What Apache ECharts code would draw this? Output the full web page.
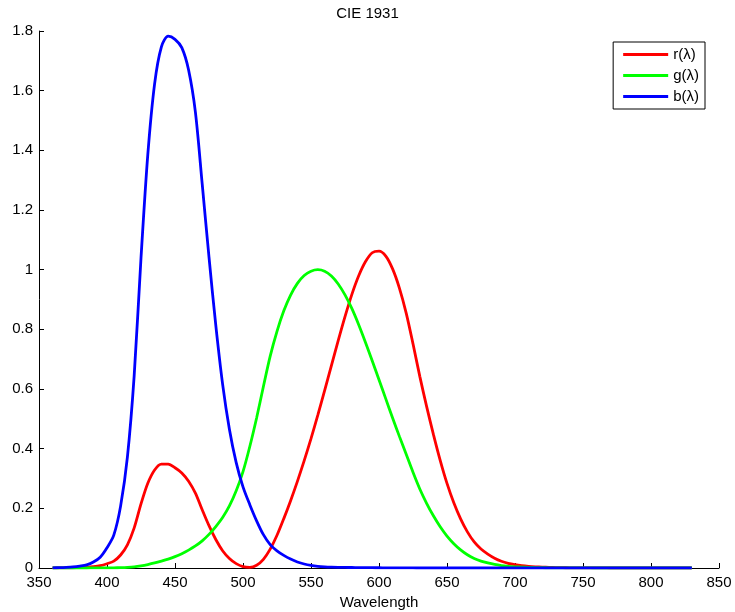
<!DOCTYPE html>
<html><head><meta charset="utf-8">
<script src="https://cdn.jsdelivr.net/npm/echarts@6/dist/echarts.min.js"></script>
<style>html,body{margin:0;padding:0;background:#fff}#c{width:735px;height:612px}</style>
</head><body><div id="c"></div>
<script>
const wavelengths = [360,365,370,375,380,385,390,395,400,405,410,415,420,425,430,435,440,445,450,455,460,465,470,475,480,485,490,495,500,505,510,515,520,525,530,535,540,545,550,555,560,565,570,575,580,585,590,595,600,605,610,615,620,625,630,635,640,645,650,655,660,665,670,675,680,685,690,695,700,705,710,715,720,725,730,735,740,745,750,755,760,765,770,775,780,785,790,795,800,805,810,815,820,825,830];
const rValues = [0.00013,0.000232,0.000415,0.000742,0.001368,0.002236,0.004243,0.00765,0.01431,0.02319,0.04351,0.07763,0.13438,0.21477,0.2839,0.3285,0.34828,0.34806,0.3362,0.3187,0.2908,0.2511,0.19536,0.1421,0.09564,0.05795,0.03201,0.0147,0.0049,0.0024,0.0093,0.0291,0.06327,0.1096,0.1655,0.22575,0.2904,0.3597,0.43345,0.51205,0.5945,0.6784,0.7621,0.8425,0.9163,0.9786,1.0263,1.0567,1.0622,1.0456,1.0026,0.9384,0.85445,0.7514,0.6424,0.5419,0.4479,0.3608,0.2835,0.2187,0.1649,0.1212,0.0874,0.0636,0.04677,0.0329,0.0227,0.01584,0.011359,0.008111,0.00579,0.004109,0.002899,0.002049,0.00144,0.001,0.00069,0.000476,0.000332,0.000235,0.000166,0.000117,0.000083,0.000059,0.000042,0.000029,0.000021,0.000015,0.00001,0.000007,0.000005,0.000004,0.000003,0.000002,0.000001];
const gValues = [0.000004,0.000007,0.000012,0.000022,0.000039,0.000064,0.00012,0.000217,0.000396,0.00064,0.00121,0.00218,0.004,0.0073,0.0116,0.01684,0.023,0.0298,0.038,0.048,0.06,0.0739,0.09098,0.1126,0.13902,0.1693,0.20802,0.2586,0.323,0.4073,0.503,0.6082,0.71,0.7932,0.862,0.91485,0.954,0.9803,0.99495,1.0,0.995,0.9786,0.952,0.9154,0.87,0.8163,0.757,0.6949,0.631,0.5668,0.503,0.4412,0.381,0.321,0.265,0.217,0.175,0.1382,0.107,0.0816,0.061,0.04458,0.032,0.0232,0.017,0.01192,0.00821,0.005723,0.004102,0.002929,0.002091,0.001484,0.001047,0.00074,0.00052,0.000361,0.000249,0.000172,0.00012,0.000085,0.00006,0.000042,0.00003,0.000021,0.000015,0.00001,0.000007,0.000005,0.000004,0.000003,0.000002,0.000001,0.000001,0.000001,0];
const bValues = [0.000606,0.001086,0.001946,0.003486,0.00645,0.01055,0.02005,0.03621,0.06785,0.1102,0.2074,0.3713,0.6456,1.03905,1.3856,1.62296,1.74706,1.7826,1.77211,1.7441,1.6692,1.5281,1.28764,1.0419,0.81295,0.6162,0.46518,0.3533,0.272,0.2123,0.1582,0.1117,0.07825,0.05725,0.04216,0.02984,0.0203,0.0134,0.00875,0.00575,0.0039,0.00275,0.0021,0.0018,0.00165,0.0014,0.0011,0.001,0.0008,0.0006,0.00034,0.00024,0.00019,0.0001,0.00005,0.00003,0.00002,0.00001,0,0,0,0,0,0,0,0,0,0,0,0,0,0,0,0,0,0,0,0,0,0,0,0,0,0,0,0,0,0,0,0,0,0,0,0,0];
const seriesNames = ['r(λ)','g(λ)','b(λ)'];
const seriesColors = ['#ff0000','#00ff00','#0000ff'];
const xTicks = {min:350, max:850, interval:50};
const yTicks = {min:0, max:1.8, interval:0.2};

const font = 'Liberation Sans, Arial, Helvetica, sans-serif';
const chart = echarts.init(document.getElementById('c'), null, {renderer:'canvas'});
const allVals = [rValues, gValues, bValues];
chart.setOption({
  animation:false,
  backgroundColor:'#fff',
  title:{text:'CIE 1931', left:'center', top:6, padding:0, textStyle:{fontFamily:font, fontSize:15, fontWeight:'normal', color:'#000'}},
  legend:{
    data:seriesNames, orient:'vertical', right:30, top:42,
    backgroundColor:'#fff', borderColor:'#000', borderWidth:1, borderRadius:0,
    padding:[5,6,5,10], itemGap:6, itemWidth:45, itemHeight:3, icon:'rect',
    textStyle:{fontFamily:font, fontSize:15, color:'#000'}
  },
  grid:{left:39, right:16, top:31, bottom:44, containLabel:false, outerBoundsMode:'none'},
  xAxis:{type:'value', min:xTicks.min, max:xTicks.max, interval:xTicks.interval,
    name:'Wavelength', nameLocation:'middle', nameGap:23,
    nameTextStyle:{fontFamily:font, fontSize:15, color:'#000'},
    axisLine:{show:true, onZero:false, lineStyle:{color:'#000', width:1}},
    axisTick:{show:true, inside:true, length:5, lineStyle:{color:'#000'}},
    axisLabel:{fontFamily:font, fontSize:15, color:'#000', margin:7},
    splitLine:{show:false}},
  yAxis:{type:'value', min:yTicks.min, max:yTicks.max, interval:yTicks.interval,
    axisLine:{show:true, lineStyle:{color:'#000', width:1}},
    axisTick:{show:true, inside:true, length:5, lineStyle:{color:'#000'}},
    axisLabel:{fontFamily:font, fontSize:15, color:'#000', margin:6},
    splitLine:{show:false}},
  series: seriesNames.map((n,i)=>({
    name:n, type:'line', showSymbol:false, symbol:'none', smooth:0.3,
    color:seriesColors[i],
    lineStyle:{width:2.8, color:seriesColors[i]},
    data: wavelengths.map((w,k)=>[w, allVals[i][k]])
  }))
});
</script></body></html>
